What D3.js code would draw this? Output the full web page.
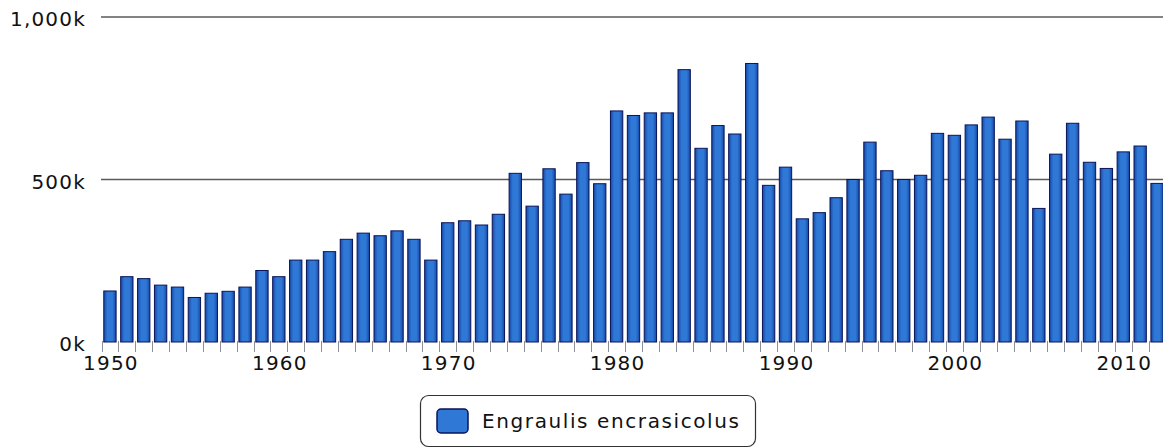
<!DOCTYPE html>
<html>
<head>
<meta charset="utf-8">
<script src="https://cdn.jsdelivr.net/npm/d3@7"></script>
<style>
  body { margin: 0; background: #fff; }
  svg { display: block; }
  text { font-family: "DejaVu Sans", Verdana, sans-serif; fill: #111; }
</style>
</head>
<body>
<script>
// catches, in thousands of tonnes
var years = d3.range(1950, 2013);
var catches = [
  157, 201, 195, 175, 169, 137, 150, 156, 169, 220,
  201, 252, 252, 278, 316, 335, 327, 342, 316, 252,
  367, 373, 360, 393, 519, 418, 533, 455, 552, 487,
  711, 697, 705, 705, 838, 596, 666, 640, 857, 482,
  538, 379, 398, 444, 500, 615, 527, 500, 513, 642,
  636, 668, 692, 624, 680, 411, 578, 673, 553, 534,
  585, 603, 488
];
var yTicks = [0, 500, 1000];
var xLabels = [1950, 1960, 1970, 1980, 1990, 2000, 2010];
var seriesName = "Engraulis encrasicolus";

function init(){
    var w = 1163;
    var h = 448;

    var svg = d3.select("body")
        .append("svg")
        .attr("width", w)
        .attr("height", h);

    var defs = svg.append("defs");
    var grad = defs.append("linearGradient")
        .attr("id", "barGrad")
        .attr("x1", "0").attr("x2", "1").attr("y1", "0").attr("y2", "0");
    grad.append("stop").attr("offset", "0%").attr("stop-color", "#1848a8");
    grad.append("stop").attr("offset", "30%").attr("stop-color", "#2f78d6");
    grad.append("stop").attr("offset", "70%").attr("stop-color", "#2f78d6");
    grad.append("stop").attr("offset", "100%").attr("stop-color", "#1848a8");

    var x = d3.scaleBand()
        .domain(years)
        .range([101.5, 1165.5])
        .paddingInner(0.27)
        .paddingOuter(0.135);

    var y = d3.scaleLinear()
        .domain([0, 1000])
        .range([342, 17]);

    // grid lines
    svg.selectAll("line.grid")
        .data(yTicks.filter(function(d){ return d > 0; }))
        .enter()
        .append("line")
        .attr("class", "grid")
        .attr("x1", 101)
        .attr("x2", w)
        .attr("y1", function(d){ return y(d); })
        .attr("y2", function(d){ return y(d); })
        .attr("stroke", "#5a5a5a")
        .attr("stroke-width", 1.6);

    // y labels
    svg.selectAll("text.ylab")
        .data(yTicks)
        .enter()
        .append("text")
        .attr("class", "ylab")
        .attr("x", 86)
        .attr("y", function(d){ return y(d) + 2; })
        .attr("dy", "0.35em")
        .attr("text-anchor", "end")
        .style("font-size", "20px")
        .style("letter-spacing", "1.2px")
        .text(function(d){ return d3.format(",")(d) + "k"; });

    // bars
    svg.selectAll("rect.bar")
        .data(catches)
        .enter()
        .append("rect")
        .attr("class", "bar")
        .attr("x", function(d, i){ return x(years[i]); })
        .attr("y", function(d){ return y(d); })
        .attr("width", x.bandwidth())
        .attr("height", function(d){ return y(0) - y(d); })
        .attr("fill", "url(#barGrad)")
        .attr("stroke", "#0a1458")
        .attr("stroke-width", 1);

    // x ticks at band boundaries
    var step = x.step();
    var x0 = x.range()[0];
    svg.selectAll("line.xtick")
        .data(d3.range(years.length + 1))
        .enter()
        .append("line")
        .attr("class", "xtick")
        .attr("x1", function(i){ return Math.round(x0 + i * step) + 0.5; })
        .attr("x2", function(i){ return Math.round(x0 + i * step) + 0.5; })
        .attr("y1", 341)
        .attr("y2", 352)
        .attr("stroke", "#8a8f99")
        .attr("stroke-width", 1);

    svg.selectAll("text.xlab")
        .data(xLabels)
        .enter()
        .append("text")
        .attr("class", "xlab")
        .attr("x", function(d){ return x(d) + x.bandwidth() / 2 + 1; })
        .attr("y", 370)
        .attr("text-anchor", "middle")
        .style("font-size", "20px")
        .style("letter-spacing", "1.2px")
        .text(function(d){ return d; });

    // legend
    var lg = svg.append("g");
    lg.append("rect")
        .attr("x", 420.5).attr("y", 395.5)
        .attr("width", 335).attr("height", 51)
        .attr("rx", 8)
        .attr("fill", "#fff")
        .attr("stroke", "#333")
        .attr("stroke-width", 1.2);
    lg.append("rect")
        .attr("x", 437).attr("y", 409)
        .attr("width", 31).attr("height", 24)
        .attr("rx", 4)
        .attr("fill", "#2f78d6")
        .attr("stroke", "#0a1458")
        .attr("stroke-width", 1.5);
    lg.append("text")
        .attr("x", 482)
        .attr("y", 421)
        .attr("dy", "0.35em")
        .style("font-size", "20px")
        .style("letter-spacing", "1.6px")
        .text(seriesName);
}
window.onload = init;
</script>
</body>
</html>
